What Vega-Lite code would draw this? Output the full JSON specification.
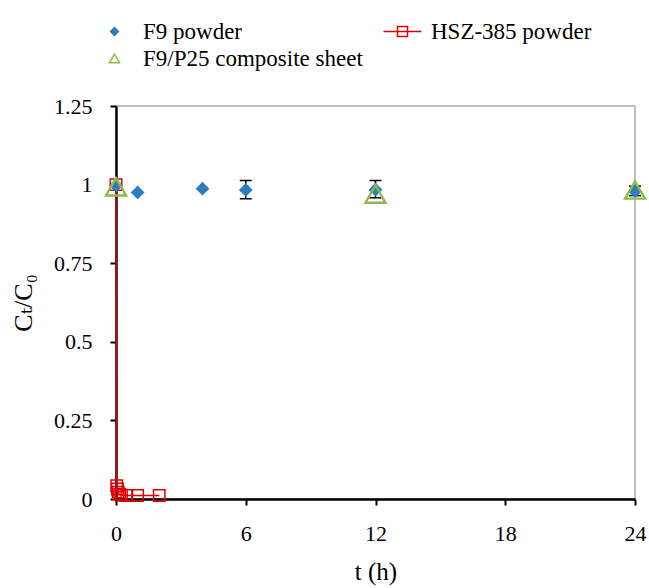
{
  "$schema": "https://vega.github.io/schema/vega-lite/v6.json",
  "width": 519,
  "height": 393,
  "autosize": {"type": "none"},
  "padding": {"left": 116, "top": 106, "right": 14, "bottom": 89},
  "config": {
    "font": "Liberation Serif, Times New Roman, DejaVu Serif, serif",
    "view": {"stroke": "#BFBFBF", "strokeWidth": 2},
    "axis": {
      "domainColor": "black", "domainWidth": 2.5, "tickColor": "black", "tickWidth": 2, "tickSize": 6,
      "labelFont": "Liberation Serif, Times New Roman, DejaVu Serif, serif", "labelFontSize": 22, "labelColor": "black",
      "titleFont": "Liberation Serif, Times New Roman, DejaVu Serif, serif", "titleFontSize": 25, "titleColor": "black", "titleFontWeight": "normal",
      "grid": false
    },
    "legend": {
      "labelFont": "Liberation Serif, Times New Roman, DejaVu Serif, serif", "labelFontSize": 23, "labelColor": "black", "labelLimit": 400
    }
  },
  "datasets": {
    "f9": [
      {"t": 0, "c": 0.997},
      {"t": 1, "c": 0.975},
      {"t": 4, "c": 0.987},
      {"t": 6, "c": 0.983, "lo": 0.955, "hi": 1.013},
      {"t": 12, "c": 0.984, "lo": 0.958, "hi": 1.013},
      {"t": 24, "c": 0.979, "lo": 0.965, "hi": 0.995}
    ],
    "hsz": [
      {"t": 0, "c": 1.0},
      {"t": 0.033, "c": 0.042},
      {"t": 0.067, "c": 0.032},
      {"t": 0.1, "c": 0.022},
      {"t": 0.167, "c": 0.015},
      {"t": 0.25, "c": 0.012},
      {"t": 0.5, "c": 0.011},
      {"t": 1, "c": 0.011},
      {"t": 2, "c": 0.011}
    ],
    "comp": [
      {"t": 0, "c": 0.993},
      {"t": 12, "c": 0.97},
      {"t": 24, "c": 0.983}
    ],
    "leg": [
      {"series": "F9 powder", "t": 0, "c": 1.0},
      {"series": "HSZ-385 powder", "t": 0, "c": 1.0},
      {"series": "F9/P25 composite sheet", "t": 0, "c": 1.0}
    ]
  },
  "layer": [
    {
      "data": {"name": "f9"},
      "transform": [{"filter": "isValid(datum.lo)"}],
      "mark": {"type": "rule", "color": "black", "strokeWidth": 1.5},
      "encoding": {
        "x": {"field": "t", "type": "quantitative", "scale": {"domain": [0, 24], "nice": false},
              "axis": {"values": [0, 6, 12, 18, 24], "title": "t (h)", "labelPadding": 18, "titlePadding": 15, "labelFlush": false}},
        "y": {"field": "lo", "type": "quantitative", "scale": {"domain": [0, 1.25], "nice": false},
              "axis": {"values": [0, 0.25, 0.5, 0.75, 1, 1.25], "format": ".3~g", "title": "Cₜ/C₀", "titleFontSize": 26, "labelPadding": 18, "titlePadding": 17, "labelFlush": false}},
        "y2": {"field": "hi"}
      }
    },
    {
      "data": {"name": "f9"},
      "transform": [{"filter": "isValid(datum.lo)"}, {"fold": ["lo", "hi"], "as": ["k", "v"]}],
      "mark": {"type": "point", "shape": "stroke", "size": 144, "color": "black", "strokeWidth": 1.5, "opacity": 1},
      "encoding": {
        "x": {"field": "t", "type": "quantitative"},
        "y": {"field": "v", "type": "quantitative"}
      }
    },
    {
      "data": {"name": "hsz"},
      "mark": {"type": "line", "color": "#E00000", "strokeWidth": 1.5},
      "encoding": {
        "x": {"field": "t", "type": "quantitative"},
        "y": {"field": "c", "type": "quantitative"}
      }
    },
    {
      "data": {"name": "hsz"},
      "mark": {"type": "point", "shape": "square", "size": 130, "filled": false, "color": "#E00000", "strokeWidth": 1.5, "opacity": 1},
      "encoding": {
        "x": {"field": "t", "type": "quantitative"},
        "y": {"field": "c", "type": "quantitative"}
      }
    },
    {
      "data": {"name": "f9"},
      "mark": {"type": "point", "shape": "diamond", "size": 190, "filled": true, "color": "#2A7DC0", "opacity": 1},
      "encoding": {
        "x": {"field": "t", "type": "quantitative"},
        "y": {"field": "c", "type": "quantitative"}
      }
    },
    {
      "data": {"name": "comp"},
      "mark": {"type": "point", "shape": "triangle-up", "size": 400, "filled": false, "color": "#8DBB45", "strokeWidth": 2.4, "opacity": 1},
      "encoding": {
        "x": {"field": "t", "type": "quantitative"},
        "y": {"field": "c", "type": "quantitative"}
      }
    },
    {
      "data": {"name": "leg"},
      "mark": {"type": "point", "size": 110, "strokeWidth": 1.5, "opacity": 0},
      "encoding": {
        "x": {"field": "t", "type": "quantitative"},
        "y": {"field": "c", "type": "quantitative"},
        "shape": {"field": "series", "type": "nominal",
          "scale": {"domain": ["F9 powder", "HSZ-385 powder", "F9/P25 composite sheet"],
                    "range": ["diamond", "M-3.8,0H3.8M-1,-1H1V1H-1Z", "triangle-up"]},
          "legend": {"title": null, "direction": "horizontal", "orient": "none", "legendX": -13, "legendY": -86, "columns": 2, "gridAlign": "none", "columnPadding": 17, "rowPadding": 3, "labelOffset": 17, "symbolOpacity": 1, "symbolStrokeWidth": 1.5, "padding": 0}},
        "fill": {"field": "series", "type": "nominal",
          "scale": {"domain": ["F9 powder", "HSZ-385 powder", "F9/P25 composite sheet"],
                    "range": ["#2A7DC0", "transparent", "transparent"]},
          "legend": {"title": null, "direction": "horizontal", "orient": "none", "legendX": -13, "legendY": -86, "columns": 2, "gridAlign": "none", "columnPadding": 17, "rowPadding": 3, "labelOffset": 17, "symbolOpacity": 1, "symbolStrokeWidth": 1.5, "padding": 0}},
        "stroke": {"field": "series", "type": "nominal",
          "scale": {"domain": ["F9 powder", "HSZ-385 powder", "F9/P25 composite sheet"],
                    "range": ["transparent", "#E00000", "#8DBB45"]},
          "legend": {"title": null, "direction": "horizontal", "orient": "none", "legendX": -13, "legendY": -86, "columns": 2, "gridAlign": "none", "columnPadding": 17, "rowPadding": 3, "labelOffset": 17, "symbolOpacity": 1, "symbolStrokeWidth": 1.5, "padding": 0}}
      }
    }
  ]
}
